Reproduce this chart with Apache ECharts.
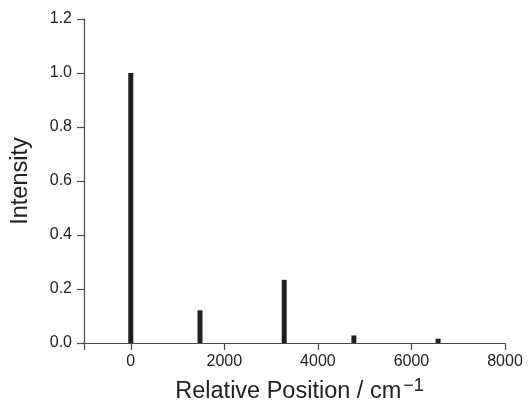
<!DOCTYPE html>
<html>
<head>
<meta charset="utf-8">
<script src="https://cdn.jsdelivr.net/npm/echarts@6/dist/echarts.min.js"></script>
<style>
  html, body { margin: 0; padding: 0; background: #fff; }
  #chart { width: 529px; height: 402px; }
</style>
</head>
<body>
<div id="chart"></div>
<script>
// peak positions (cm^-1) and relative intensities
const positions = [0, 1480, 3280, 4770, 6570];
const intensities = [1.0, 0.121, 0.234, 0.028, 0.016];
const xTickValues = [-1000, 0, 2000, 4000, 6000, 8000];
const xLabelValues = [0, 2000, 4000, 6000, 8000];

const font = '"Liberation Sans", Arial, Helvetica, sans-serif';
const axisColor = '#4a4a4a';

let chart = echarts.init(document.getElementById('chart'));

let peaks = [];
for (let k in positions) {
  peaks.push([positions[k], intensities[k]]);
}

chart.setOption({
  animation: false,
  grid: {
    left: 84,
    right: 24,
    top: 19,
    bottom: 59,
    outerBoundsMode: 'none'
  },
  xAxis: {
    type: 'value',
    min: -1000,
    max: 8000,
    name: 'Relative Position / cm{sup|−1}',
    nameLocation: 'middle',
    nameGap: 34,
    nameTextStyle: {
      fontFamily: font,
      fontSize: 23.5,
      color: '#222',
      padding: [0, 0, 0, 10],
      rich: {
        sup: { fontFamily: font, fontSize: 18, color: '#222', padding: [0, 0, 12, 2] }
      }
    },
    axisLine: { show: true, onZero: false, lineStyle: { color: axisColor, width: 1.2 } },
    axisTick: {
      show: true,
      inside: false,
      length: 7,
      customValues: xTickValues,
      lineStyle: { color: axisColor, width: 1.2 }
    },
    axisLabel: {
      customValues: xLabelValues,
      margin: 11,
      fontFamily: font,
      fontSize: 16,
      color: '#222',
      formatter: function (value) {
        return String(value);
      }
    },
    splitLine: { show: false }
  },
  yAxis: {
    type: 'value',
    min: 0,
    max: 1.2,
    interval: 0.2,
    name: 'Intensity',
    nameLocation: 'middle',
    nameGap: 51,
    nameTextStyle: { fontFamily: font, fontSize: 23.5, color: '#222' },
    axisLine: { show: true, onZero: false, lineStyle: { color: axisColor, width: 1.2 } },
    axisTick: { show: true, inside: false, length: 7, lineStyle: { color: axisColor, width: 1.2 } },
    axisLabel: {
      margin: 12,
      fontFamily: font,
      fontSize: 16,
      color: '#222',
      formatter: function (value) {
        return value.toFixed(1);
      }
    },
    splitLine: { show: false }
  },
  series: [
    {
      type: 'bar',
      data: peaks,
      barWidth: 5,
      itemStyle: { color: '#231f20' }
    }
  ]
});
</script>
</body>
</html>
